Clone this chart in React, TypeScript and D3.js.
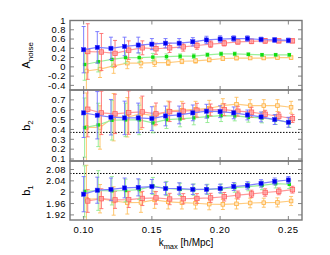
import React from "react";
import * as d3 from "d3";

const kValues = [0.1, 0.11, 0.12, 0.13, 0.14, 0.15, 0.16, 0.17, 0.18, 0.19, 0.2, 0.21, 0.22, 0.23, 0.24, 0.25];

// A_noise panel
const aBlue = [0.37, 0.42, 0.4, 0.44, 0.47, 0.49, 0.51, 0.51, 0.54, 0.58, 0.6, 0.61, 0.61, 0.59, 0.58, 0.57];
const aBlueErr = [0.5, 0.34, 0.24, 0.2, 0.17, 0.12, 0.1, 0.1, 0.09, 0.08, 0.07, 0.06, 0.06, 0.05, 0.05, 0.05];
const aRed = [0.33, 0.32, 0.29, 0.36, 0.41, 0.39, 0.41, 0.43, 0.46, 0.49, 0.51, 0.54, 0.55, 0.56, 0.56, 0.56];
const aRedErr = [0.6, 0.4, 0.28, 0.2, 0.15, 0.12, 0.1, 0.09, 0.08, 0.07, 0.06, 0.05, 0.05, 0.05, 0.04, 0.04];
const aGreen = [0.05, 0.11, 0.16, 0.2, 0.2, 0.21, 0.22, 0.23, 0.23, 0.26, 0.28, 0.28, 0.27, 0.26, 0.26, 0.26];
const aGreenErr = [0.34, 0.22, 0.15, 0.12, 0.1, 0.08, 0.06, 0.05, 0.05, 0.04, 0.04, 0.04, 0.03, 0.03, 0.03, 0.03];
const aOrange = [-0.09, -0.05, 0.02, 0.08, 0.08, 0.09, 0.09, 0.12, 0.13, 0.15, 0.18, 0.19, 0.19, 0.19, 0.2, 0.2];
const aOrangeErr = [0.45, 0.18, 0.16, 0.12, 0.1, 0.08, 0.06, 0.05, 0.05, 0.04, 0.04, 0.04, 0.03, 0.03, 0.03, 0.03];

// b2 panel
const b2Blue = [0.568, 0.544, 0.524, 0.517, 0.517, 0.51, 0.537, 0.547, 0.568, 0.585, 0.58, 0.568, 0.547, 0.527, 0.5, 0.473];
const b2BlueErr = [0.25, 0.24, 0.18, 0.17, 0.15, 0.12, 0.1, 0.09, 0.08, 0.07, 0.06, 0.06, 0.05, 0.05, 0.05, 0.05];
const b2Red = [0.605, 0.568, 0.558, 0.571, 0.578, 0.558, 0.58, 0.585, 0.595, 0.598, 0.6, 0.585, 0.575, 0.554, 0.534, 0.51];
const b2RedErr = [0.28, 0.22, 0.2, 0.22, 0.16, 0.11, 0.1, 0.08, 0.07, 0.06, 0.06, 0.05, 0.05, 0.04, 0.04, 0.04];
const b2Green = [0.419, 0.446, 0.493, 0.497, 0.497, 0.466, 0.5, 0.507, 0.517, 0.53, 0.54, 0.537, 0.524, 0.517, 0.5, 0.47];
const b2GreenErr = [0.3, 0.22, 0.2, 0.17, 0.15, 0.1, 0.09, 0.08, 0.07, 0.06, 0.06, 0.05, 0.05, 0.05, 0.05, 0.05];
const b2Orange = [0.42, 0.42, 0.524, 0.524, 0.56, 0.537, 0.588, 0.595, 0.605, 0.615, 0.642, 0.656, 0.642, 0.642, 0.642, 0.625];
const b2OrangeErr = [0.35, 0.22, 0.24, 0.2, 0.16, 0.1, 0.1, 0.09, 0.08, 0.08, 0.07, 0.07, 0.06, 0.06, 0.06, 0.06];

// b1 panel
const b1Blue = [1.993, 2.007, 2.01, 2.015, 2.017, 2.02, 2.013, 2.013, 2.01, 2.01, 2.013, 2.02, 2.024, 2.031, 2.038, 2.043];
const b1BlueErr = [0.062, 0.046, 0.04, 0.035, 0.03, 0.025, 0.022, 0.02, 0.018, 0.016, 0.015, 0.014, 0.013, 0.013, 0.012, 0.012];
const b1Red = [1.969, 1.977, 1.973, 1.974, 1.978, 1.98, 1.976, 1.977, 1.978, 1.98, 1.984, 1.99, 1.994, 1.999, 2.003, 2.009];
const b1RedErr = [0.04, 0.035, 0.03, 0.028, 0.025, 0.022, 0.02, 0.018, 0.017, 0.016, 0.015, 0.014, 0.013, 0.013, 0.012, 0.012];
const b1Green = [2.003, 2.006, 2.005, 2.006, 2.009, 2.022, 2.013, 2.01, 2.009, 2.01, 2.012, 2.016, 2.02, 2.024, 2.03, 2.028];
const b1GreenErr = [0.09, 0.07, 0.05, 0.04, 0.035, 0.03, 0.025, 0.022, 0.02, 0.018, 0.017, 0.016, 0.015, 0.015, 0.015, 0.015];
const b1Orange = [1.975, 1.977, 1.969, 1.963, 1.964, 1.973, 1.966, 1.963, 1.961, 1.958, 1.957, 1.959, 1.962, 1.963, 1.964, 1.969];
const b1OrangeErr = [0.12, 0.05, 0.05, 0.04, 0.035, 0.03, 0.025, 0.022, 0.02, 0.02, 0.018, 0.018, 0.017, 0.016, 0.016, 0.016];

const xTicks = [0.1, 0.15, 0.2, 0.25];
const aTicks = [1, 0.8, 0.6, 0.4, 0.2, 0, -0.2, -0.4];
const b2Ticks = [0.7, 0.6, 0.5, 0.4, 0.3, 0.2, 0.1];
const b1Ticks = [2.08, 2.04, 2, 1.96, 1.92];

const left = 70;
const right = 302;
const x = d3.scaleLinear().domain([0.09, 0.26]).range([left, right]);

const styles = {
  orange: { line: "#ffcc80", err: "#ffc060", off: 0.002 },
  green: { line: "#99f099", err: "#8eea8e", off: 0.0007 },
  red: { line: "#ff9999", err: "#ff6b6b", off: 0.003 },
  blue: { line: "#8080ff", err: "#7070ff", off: 0 },
};

const panels = [
  {
    id: "a", top: 20.5, bottom: 90, domain: [-0.5, 1], ticks: aTicks,
    label: "A", sub: "noise", ref: null,
    series: [
      { s: "orange", v: aOrange, e: aOrangeErr },
      { s: "green", v: aGreen, e: aGreenErr },
      { s: "red", v: aRed, e: aRedErr },
      { s: "blue", v: aBlue, e: aBlueErr },
    ],
  },
  {
    id: "b2", top: 90, bottom: 161, domain: [0.08, 0.8], ticks: b2Ticks,
    label: "b", sub: "2", ref: 0.37,
    series: [
      { s: "orange", v: b2Orange, e: b2OrangeErr },
      { s: "green", v: b2Green, e: b2GreenErr },
      { s: "red", v: b2Red, e: b2RedErr },
      { s: "blue", v: b2Blue, e: b2BlueErr },
    ],
  },
  {
    id: "b1", top: 161, bottom: 220, domain: [1.902, 2.11], ticks: b1Ticks,
    label: "b", sub: "1", ref: 2.066,
    series: [
      { s: "orange", v: b1Orange, e: b1OrangeErr },
      { s: "red", v: b1Red, e: b1RedErr },
      { s: "green", v: b1Green, e: b1GreenErr },
      { s: "blue", v: b1Blue, e: b1BlueErr },
    ],
  },
];

const font = "'Liberation Sans', Arial, sans-serif";

function Marker({ s, cx, cy }) {
  if (s === "blue") return <rect x={cx - 2.1} y={cy - 2.1} width={4.2} height={4.2} fill="#0000ee" stroke="#3333ff" strokeWidth={0.5} />;
  if (s === "red") return <rect x={cx - 2.2} y={cy - 2.2} width={4.4} height={4.4} fill="#ffa0a0" fillOpacity={0.8} stroke="#ff6060" strokeWidth={0.8} />;
  if (s === "green") return <rect x={cx - 1.7} y={cy - 1.7} width={3.4} height={3.4} fill="#11dd11" />;
  return <rect x={cx - 1.8} y={cy - 1.8} width={3.6} height={3.6} fill="#ffe6c0" stroke="#ffb040" strokeWidth={0.8} />;
}

function Panel({ p }) {
  const y = d3.scaleLinear().domain(p.domain).range([p.bottom, p.top]);
  const line = d3.line().x((d) => d[0]).y((d) => d[1]);
  const clipId = "clip-" + p.id;
  return (
    <g>
      <defs>
        <clipPath id={clipId}>
          <rect x={left} y={p.top} width={right - left} height={p.bottom - p.top} />
        </clipPath>
      </defs>
      <g clipPath={`url(#${clipId})`}>
        {p.ref !== null && (
          <line x1={left} x2={right} y1={y(p.ref)} y2={y(p.ref)} stroke="#000" strokeWidth={1} strokeDasharray="1.5,1.5" />
        )}
        {p.series.map((ser) => {
          const st = styles[ser.s];
          const pts = kValues.map((k, i) => [x(k + st.off), y(ser.v[i])]);
          return (
            <g key={ser.s}>
              <path d={line(pts)} fill="none" stroke={st.line} strokeWidth={1.2} />
              {kValues.map((k, i) => {
                const cx = x(k + st.off);
                const y1 = y(ser.v[i] + ser.e[i]);
                const y2 = y(ser.v[i] - ser.e[i]);
                return (
                  <g key={i} stroke={st.err} strokeWidth={0.9}>
                    <line x1={cx} x2={cx} y1={y1} y2={y2} />
                    <line x1={cx - 2} x2={cx + 2} y1={y1} y2={y1} />
                    <line x1={cx - 2} x2={cx + 2} y1={y2} y2={y2} />
                  </g>
                );
              })}
              {kValues.map((k, i) => (
                <Marker key={"m" + i} s={ser.s} cx={x(k + st.off)} cy={y(ser.v[i])} />
              ))}
            </g>
          );
        })}
      </g>
      {p.ticks.map((t) => (
        <g key={t}>
          <line x1={left} x2={left + 4} y1={y(t)} y2={y(t)} stroke="#666" strokeWidth={0.8} />
          <line x1={right - 4} x2={right} y1={y(t)} y2={y(t)} stroke="#666" strokeWidth={0.8} />
          <text x={left - 4} y={y(t)} dy="0.35em" textAnchor="end" fontSize={9.3} letterSpacing={0.5} fontFamily={font} fill="#000">
            {String(t)}
          </text>
        </g>
      ))}
      {xTicks.map((t) => (
        <g key={"x" + t}>
          <line x1={x(t)} x2={x(t)} y1={p.bottom} y2={p.bottom - 4} stroke="#666" strokeWidth={0.8} />
          <line x1={x(t)} x2={x(t)} y1={p.top} y2={p.top + 4} stroke="#666" strokeWidth={0.8} />
        </g>
      ))}
      <rect x={left} y={p.top} width={right - left} height={p.bottom - p.top} fill="none" stroke="#777" strokeWidth={1.4} />
      <text
        transform={`translate(${30},${(p.top + p.bottom) / 2}) rotate(-90)`}
        textAnchor="middle"
        fontSize={11}
        fontFamily={font}
        fill="#000"
      >
        {p.label}
        <tspan fontSize={8} dy={3}>{p.sub}</tspan>
      </text>
    </g>
  );
}

export default function App() {
  return (
    <svg width={330} height={255} style={{ position: "absolute", left: 0, top: 0, background: "#fff" }}>
      {panels.map((p) => (
        <Panel key={p.id} p={p} />
      ))}
      {xTicks.map((t) => (
        <text key={t} x={x(t)} y={230} dy="0.35em" textAnchor="middle" fontSize={9.5} letterSpacing={0.5} fontFamily={font} fill="#000">
          {t.toFixed(2)}
        </text>
      ))}
      <text x={186} y={246} textAnchor="middle" fontSize={10} fontFamily={font} fill="#000">
        k<tspan fontSize={7.5} dy={2.5}>max</tspan>
        <tspan dy={-2.5}> [h/Mpc]</tspan>
      </text>
    </svg>
  );
}
